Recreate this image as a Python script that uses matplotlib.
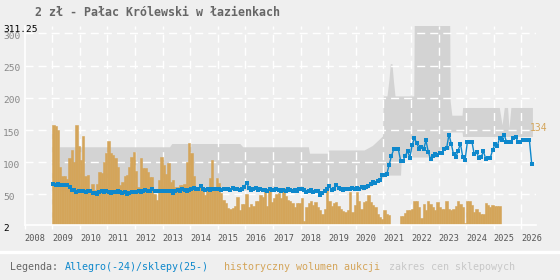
import numpy as np
import matplotlib.pyplot as plt
from matplotlib.lines import Line2D
from matplotlib.transforms import blended_transform_factory, ScaledTranslation

plt.rcParams['lines.scale_dashes'] = False

# --- data -------------------------------------------------------------
title = '2 zł - Pałac Królewski w łazienkach'
first_year = 2009

# monthly auction price (Allegro / shops), from Jan 2009
price_by_year = {
    2009: [66, 65, 66, 65, 64, 65, 64, 62, 57, 57, 53, 56],
    2010: [55, 55, 53, 55, 55, 52, 52, 51, 53, 55, 54, 56],
    2011: [53, 52, 54, 53, 55, 53, 52, 53, 51, 52, 53, 54],
    2012: [53, 55, 54, 56, 57, 55, 56, 58, 55, 56, 56, 56],
    2013: [55, 55, 56, 55, 52, 56, 57, 56, 58, 57, 56, 57],
    2014: [58, 60, 59, 58, 63, 59, 57, 58, 57, 58, 59, 58],
    2015: [58, 57, 58, 59, 58, 57, 60, 58, 59, 57, 58, 62],
    2016: [68, 60, 57, 59, 60, 57, 58, 57, 57, 56, 58, 57],
    2017: [57, 58, 57, 56, 57, 56, 58, 57, 55, 57, 56, 58],
    2018: [58, 57, 54, 55, 57, 53, 56, 55, 49, 52, 56, 58],
    2019: [63, 57, 58, 65, 60, 58, 57, 58, 59, 58, 60, 59],
    2020: [60, 59, 62, 60, 61, 63, 66, 70, 68, 71, 72, 80],
    2021: [80, 82, 96, 110, 120, 120, 120, 102, 102, 110, 117, 107],
    2022: [127, 137, 130, 121, 123, 120, 134, 116, 105, 110, 112, 111],
    2023: [114, 114, 121, 122, 143, 129, 112, 108, 118, 129, 108, 103],
    2024: [131, 132, 132, 112, 116, 107, 108, 117, 105, 107, 107, 119],
    2025: [128, 125, 137, 135, 143, 132, 132, 132, 137, 139, 132, 132],
    2026: [134, 134, 134, 134, 97],
}

# monthly auction volume (scaled to the price axis), from Jan 2009
volume_by_year = {
    2009: [158, 156, 150, 93, 79, 79, 74, 106, 119, 100, 158, 125],
    2010: [104, 140, 79, 80, 57, 66, 57, 66, 85, 84, 100, 114],
    2011: [133, 114, 111, 106, 93, 65, 70, 78, 80, 93, 108, 116],
    2012: [86, 62, 106, 91, 91, 85, 77, 77, 50, 41, 72, 108],
    2013: [96, 82, 98, 70, 72, 62, 62, 64, 64, 66, 100, 130],
    2014: [114, 79, 58, 62, 62, 57, 49, 60, 75, 104, 60, 75],
    2015: [67, 52, 42, 36, 29, 27, 29, 32, 46, 25, 35, 35],
    2016: [50, 31, 35, 32, 40, 40, 49, 46, 59, 32, 57, 38],
    2017: [45, 50, 52, 45, 60, 48, 42, 40, 36, 30, 36, 36],
    2018: [44, 8, 30, 36, 40, 34, 38, 30, 25, 20, 28, 60],
    2019: [40, 32, 36, 38, 32, 28, 24, 22, 26, 54, 22, 34],
    2020: [54, 40, 28, 38, 40, 49, 38, 34, 31, 20, 15, 12],
    2021: [25, 20, 18, 3, 0, 0, 0, 16, 16, 21, 26, 26],
    2022: [28, 40, 40, 30, 13, 35, 25, 40, 35, 30, 25, 38],
    2023: [30, 28, 27, 39, 28, 26, 28, 32, 40, 35, 30, 5],
    2024: [40, 40, 33, 22, 27, 22, 20, 20, 36, 33, 30, 33],
    2025: [32, 32, 32],
}

# shop price range: breakpoints (decimal year, low, high)
band_t = [2009.25, 2013.25, 2013.33, 2015.8, 2015.9, 2018.28, 2018.32, 2019.0, 2019.02,
          2020.3, 2020.6, 2020.8, 2020.97, 2021.0, 2021.13, 2021.2, 2021.25, 2021.31,
          2021.36, 2021.42, 2021.62, 2021.65, 2022.1, 2022.12, 2023.0, 2023.05, 2023.4,
          2023.42, 2023.48, 2023.85, 2023.87, 2025.2, 2025.3, 2025.38, 2025.5, 2025.55,
          2025.62, 2026.4]
band_low = [55, 55, 55, 57, 57, 57, 57, 57, 57,
            57, 64, 70, 75, 80, 80, 80, 80, 80,
            80, 80, 80, 108, 108, 108, 108, 120, 120,
            147, 147, 147, 140, 140, 140, 140, 140, 140,
            140, 140]
band_high = [124, 124, 129, 129, 124, 124, 114, 114, 119,
             119, 126, 134, 141, 203, 203, 228, 253, 253,
             228, 203, 203, 203, 203, 330, 330, 330, 330,
             195, 173, 173, 185, 185, 158, 185, 185, 153,
             185, 185]

y_min, y_max = 2, 311.25
y_ticks = [50, 100, 150, 200, 250, 300]
years = list(range(2008, 2027))

legend_parts = [
    ('Legenda:', '#666666'),
    ('Allegro(-24)/sklepy(25-)', '#0e88cc'),
    ('historyczny wolumen aukcji', '#d4a55a'),
    ('zakres cen sklepowych', '#c8c8c8'),
]
legend_x = [10, 65, 224, 389]  # left edge of each legend text, px

# --- prepare ------------------------------------------------------------
price = np.concatenate([price_by_year[y] for y in sorted(price_by_year)])
price_t = first_year + (np.arange(len(price)) + 0.5) / 12
volume = np.concatenate([volume_by_year[y] for y in sorted(volume_by_year)])
volume_t = first_year + np.arange(len(volume)) / 12

bg = '#efefef'
mono = 'DejaVu Sans Mono'
orange = '#d4a55a'

fig = plt.figure(figsize=(5.6, 2.8), dpi=100, facecolor=bg)
ax = fig.add_axes([24.7 / 560, 1 - 225.3 / 280, (536 - 24.7) / 560, (225.3 - 26.2) / 280])
ax.set_facecolor(bg)

ax.fill_between(band_t, band_low, band_high, color='#d3d3d3', lw=0, zorder=0.5)
ax.bar(volume_t, volume, width=1 / 12, align='edge', color=orange, edgecolor=orange,
       lw=0.4, zorder=2)
ax.plot(price_t, price, color='#0e88cc', lw=1.0, marker='s', ms=2.6, mew=0, zorder=3)

last_i = len(price) - 2
ax.annotate(f'{price[last_i]:.0f}', xy=(price_t[last_i], price[last_i]), xytext=(0.5, 5),
            textcoords='offset points', ha='left', va='bottom', color=orange,
            fontsize=7, family=mono)

ax.set_xlim(2008, 2026.53)
ax.set_ylim(y_min, y_max)

# grid
for y in y_ticks:
    ax.axhline(y, color='white', lw=1.0, ls=(0, (5.8, 3.6)), zorder=1)
for yr in years[1:]:
    ax.axvline(yr, color='white', lw=1.0, ls=(0, (5.8, 3.6)), zorder=1)

for s in ['top', 'right']:
    ax.spines[s].set_visible(False)
for s in ['left', 'bottom']:
    ax.spines[s].set_color('white')
    ax.spines[s].set_linewidth(1.2)

ax.set_xticks(years)
ax.set_xticklabels([str(y) for y in years], family=mono, fontsize=6.2, color='#555555')
for lbl in ax.get_xticklabels():
    lbl.set_ha('left')
ax.tick_params(axis='x', colors='white', length=3, width=1, pad=3.5, labelcolor='#555555')
ax.set_yticks([])

# y labels at the far left, a little below their gridline
ytr = blended_transform_factory(fig.transFigure, ax.transData) + \
    ScaledTranslation(0, -3 / 100, fig.dpi_scale_trans)
for y in y_ticks:
    ax.text(3 / 560, y, str(y), transform=ytr, ha='left', va='center',
            fontsize=6.8, family=mono, color='#888888', clip_on=False)
ax.text(3 / 560, y_max, f'{y_max:g}', transform=ytr, ha='left', va='center',
        fontsize=6.8, family=mono, color='black', clip_on=False)
ax.text(3 / 560, y_min, f'{y_min:g}', transform=ytr, ha='left', va='center',
        fontsize=6.8, family=mono, color='black', clip_on=False)

fig.text(35 / 560, 1 - 12.5 / 280, title, ha='left', va='center', fontsize=8.4,
         fontweight='bold', family=mono, color='#666666')

# bottom legend strip
fig.add_artist(Line2D([0, 1], [1 - 251.7 / 280] * 2, transform=fig.transFigure,
                      color='white', lw=2.4))
for (text, col), x0 in zip(legend_parts, legend_x):
    fig.text(x0 / 560, 1 - 267 / 280, text, ha='left', va='center', fontsize=7.2,
             family=mono, color=col)

fig.savefig('out.png', dpi=100, facecolor=bg)
